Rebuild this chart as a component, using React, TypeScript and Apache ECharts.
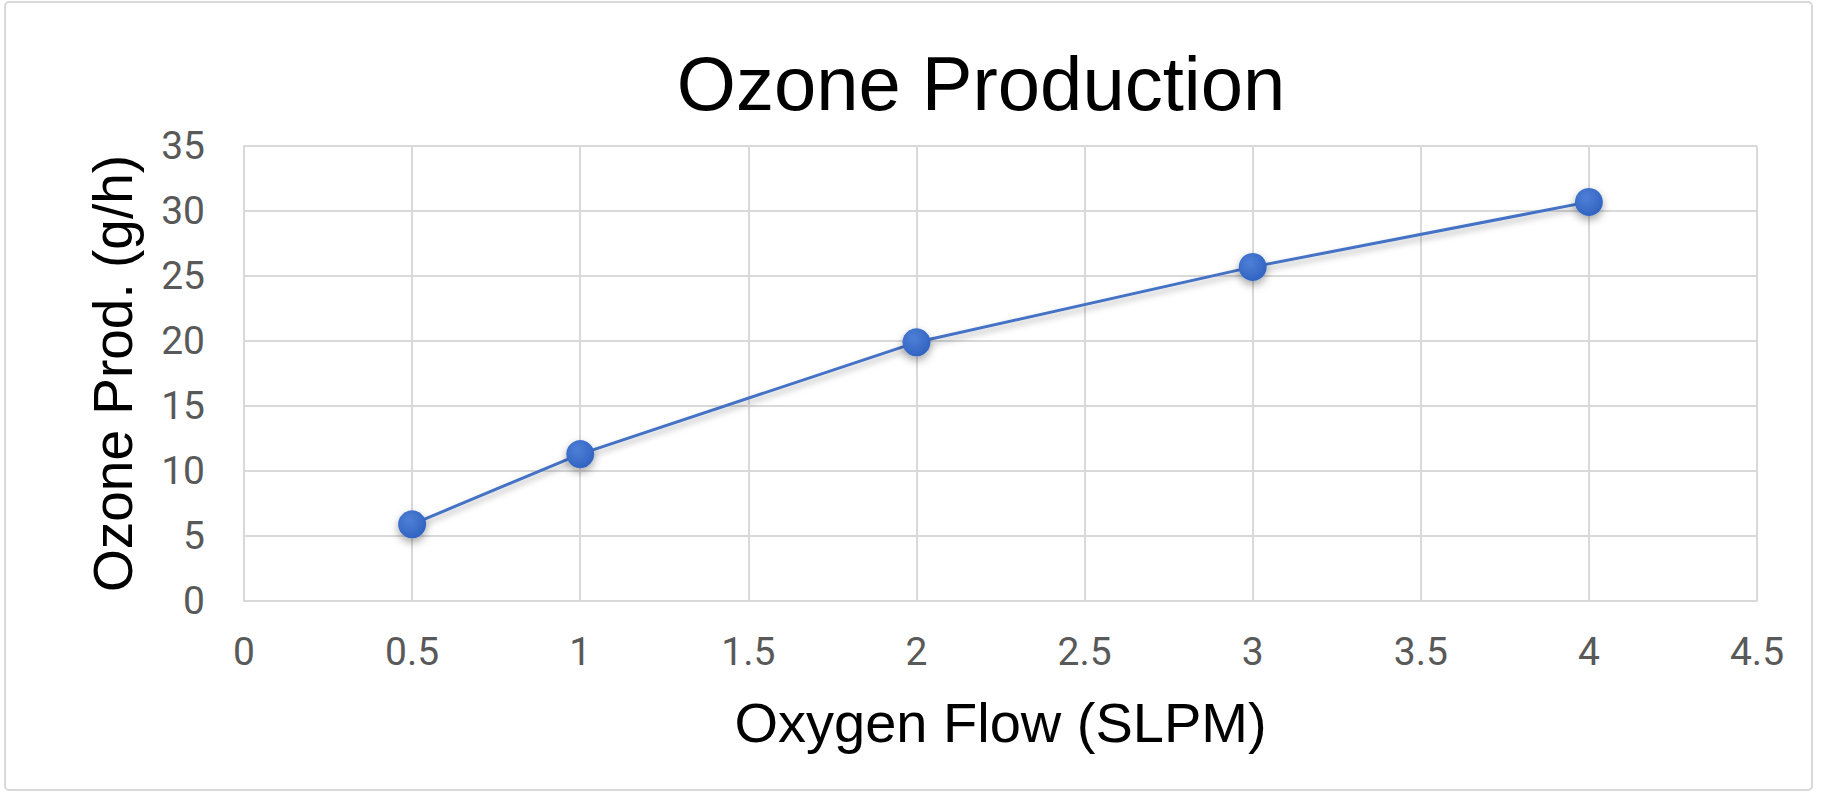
import * as echarts from "echarts";
import { useEffect, useRef } from "react";

// data
const oxygenFlow = [0.5, 1, 2, 3, 4];
const ozoneProd = [5.9, 11.3, 19.9, 25.7, 30.7];
const xTicks = [0, 0.5, 1, 1.5, 2, 2.5, 3, 3.5, 4, 4.5];
const yTicks = [0, 5, 10, 15, 20, 25, 30, 35];

const FONT = "'Liberation Sans', Arial, Helvetica, sans-serif";
const LABEL_FONT = "Roboto, 'Liberation Sans', Arial, sans-serif";
const GRID_COLOR = "#d9d9d9";

function App() {
  const chartRef = useRef(null);

  useEffect(() => {
    document.body.style.margin = "0";
    const chartInstance = echarts.init(chartRef.current, null, { renderer: "svg" });

    const options = {
      animation: false,
      backgroundColor: "#ffffff",
      title: {
        text: "Ozone Production",
        left: 976,
        top: 40,
        textAlign: "center",
        textStyle: {
          fontFamily: FONT,
          fontSize: 76,
          fontWeight: "normal",
          color: "#000000",
          lineHeight: 76,
        },
      },
      graphic: [
        {
          type: "rect",
          shape: { x: 5, y: 2, width: 1807, height: 788, r: 4 },
          style: { fill: "none", stroke: GRID_COLOR, lineWidth: 2 },
          silent: true,
        },
      ],
      grid: {
        left: 244,
        top: 146,
        right: 67,
        bottom: 196,
        containLabel: false,
        outerBoundsMode: "none",
      },
      xAxis: {
        type: "value",
        min: xTicks[0],
        max: xTicks[xTicks.length - 1],
        interval: 0.5,
        name: "Oxygen Flow (SLPM)",
        nameLocation: "middle",
        nameGap: 93,
        nameTextStyle: {
          fontFamily: FONT,
          fontSize: 56,
          lineHeight: 56,
          color: "#000000",
        },
        axisLine: { show: true, lineStyle: { color: GRID_COLOR, width: 2 } },
        axisTick: { show: false },
        axisLabel: {
          margin: 31,
          fontFamily: LABEL_FONT,
          fontSize: 39,
          lineHeight: 39,
          color: "#595959",
          showMinLabel: true,
          showMaxLabel: true,
        },
        splitLine: { show: true, lineStyle: { color: GRID_COLOR, width: 2 } },
      },
      yAxis: {
        type: "value",
        min: yTicks[0],
        max: yTicks[yTicks.length - 1],
        interval: 5,
        name: "Ozone Prod. (g/h)",
        nameLocation: "middle",
        nameGap: 104,
        nameTextStyle: {
          fontFamily: FONT,
          fontSize: 55,
          lineHeight: 55,
          color: "#000000",
        },
        axisLine: { show: true, lineStyle: { color: GRID_COLOR, width: 2 } },
        axisTick: { show: false },
        axisLabel: {
          margin: 39,
          fontFamily: LABEL_FONT,
          fontSize: 39,
          color: "#595959",
          showMinLabel: true,
          showMaxLabel: true,
        },
        splitLine: { show: true, lineStyle: { color: GRID_COLOR, width: 2 } },
      },
      series: [
        {
          name: "Ozone Production",
          type: "line",
          data: oxygenFlow.map((x, i) => [x, ozoneProd[i]]),
          symbol: "circle",
          symbolSize: 28,
          lineStyle: {
            color: "#4472c4",
            width: 3,
            shadowColor: "rgba(0,0,0,0.3)",
            shadowBlur: 6,
            shadowOffsetY: 4,
          },
          itemStyle: {
            color: {
              type: "radial",
              x: 0.4,
              y: 0.35,
              r: 0.7,
              colorStops: [
                { offset: 0, color: "#4f7fd6" },
                { offset: 1, color: "#2f62c0" },
              ],
            },
            borderWidth: 0,
            shadowColor: "rgba(0,0,0,0.35)",
            shadowBlur: 8,
            shadowOffsetY: 4,
          },
          emphasis: { disabled: true },
          z: 3,
        },
      ],
    };

    chartInstance.setOption(options);

    return () => {
      chartInstance.dispose();
    };
  }, []);

  return <div ref={chartRef} style={{ width: "1824px", height: "797px" }} />;
}

export default App;
